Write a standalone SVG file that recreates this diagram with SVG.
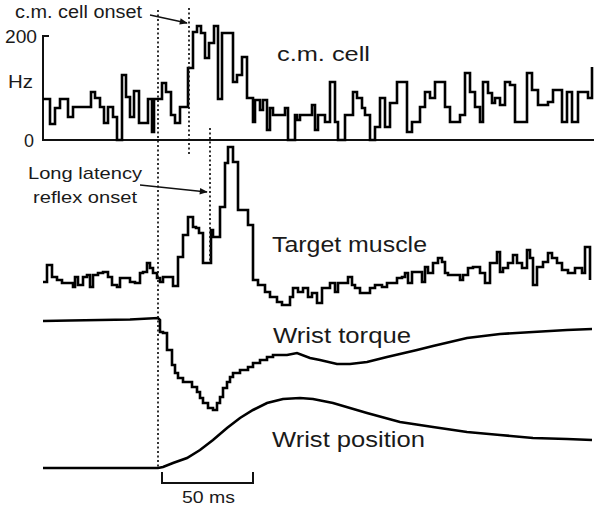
<svg xmlns="http://www.w3.org/2000/svg" width="600" height="507" viewBox="0 0 600 507">
<defs>
<style>
.tr{fill:none;stroke:#000;stroke-width:2.6;stroke-linejoin:miter}
.ax{fill:none;stroke:#111;stroke-width:2}
.dot{fill:none;stroke:#111;stroke-width:1.7;stroke-dasharray:2 2.5}
.arr{fill:none;stroke:#111;stroke-width:1.4}
.lbl{font-family:"Liberation Sans",Arial,sans-serif;fill:#1a1a1a}
</style>
<marker id="ah" viewBox="0 0 10 10" refX="9" refY="5" markerWidth="10" markerHeight="8" markerUnits="userSpaceOnUse" orient="auto">
<path d="M0,1 L10,5 L0,9 Z" fill="#111"/>
</marker>
</defs>
<rect width="600" height="507" fill="#fff"/>

<g id="axes">
<path class="ax" d="M49,36 H43 V140 H594"/>
<path class="ax" d="M162,472 V483 H253 V472"/>
</g>

<g id="cm-cell-trace">
<path class="tr" d="M43,99 H50 V124 H55 V108 H60 V99 H68 V117 H73 V107 H91 V92 H95 V98 H100 V107 H104 V123 H108 V107 H113 V117 H117 V140 H122 V75 H126 V97 H130 V117 H134 V91 H139 V123 H148 V99 H152 V132 H154 V99 H162 V83 H166 V92 H171 V115 H175 V123 H180 V107 H188 V68 H193 V32 H197 V26 H201 V33 H205 V58 H209 V43 H214 V26 H218 V99 H222 V33 H233 V82 H237 V75 H242 V57 H247 V98 H253 V122 H255 V100 H260 V110 H263 V100 H267 V130 H270 V108 H273 V115 H285 V108 H288 V140 H295 V115 H297 V120 H300 V115 H312 V105 H315 V130 H318 V115 H325 V122 H330 V82 H335 V122 H338 V140 H345 V115 H353 V92 H357 V98 H362 V108 H365 V115 H370 V140 H375 V127 H380 V98 H385 V127 H390 V103 H397 V82 H407 V132 H412 V122 H420 V107 H425 V92 H430 V98 H435 V82 H445 V107 H450 V122 H460 V115 H465 V73 H470 V92 H475 V107 H480 V122 H483 V82 H488 V93 H492 V103 H495 V98 H500 V105 H505 V82 H510 V85 H515 V122 H527 V73 H532 V90 H538 V105 H548 V102 H553 V90 H562 V122 H567 V92 H572 V122 H578 V92 H588 V98 H592 V67"/>
</g>

<g id="target-muscle-trace">
<path class="tr" d="M43,282 H47 V265 H52 V277 H57 V280 H62 V283 H73 V287 H75 V277 H78 V285 H83 V277 H87 V275 H90 V287 H93 V275 H98 V273 H103 V272 H108 V277 H112 V285 H117 V287 H120 V278 H130 V282 H135 V283 H140 V273 H143 V272 H147 V263 H150 V268 H153 V273 H157 V278 H160 V282 H163 V277 H173 V286 H178 V257 H183 V235 H188 V217 H193 V227 H196 V228 H199 V233 H203 V263 H211 V230 H213 V237 H220 V207 H225 V163 H228 V147 H233 V162 H238 V210 H248 V225 H253 V280 H258 V285 H265 V292 H270 V297 H277 V302 H282 V305 H290 V297 H293 V288 H298 V292 H303 V288 H308 V297 H312 V293 H317 V303 H322 V288 H330 V283 H335 V292 H338 V283 H348 V277 H352 V285 H355 V288 H360 V293 H370 V288 H375 V285 H382 V287 H387 V283 H397 V278 H402 V277 H405 V273 H408 V283 H412 V272 H422 V282 H425 V267 H428 V273 H433 V263 H438 V258 H442 V262 H445 V273 H448 V275 H460 V280 H463 V275 H468 V268 H473 V267 H480 V273 H485 V283 H490 V263 H497 V252 H500 V272 H503 V268 H508 V263 H513 V255 H517 V263 H522 V268 H527 V250 H530 V258 H533 V285 H537 V267 H543 V262 H548 V253 H552 V258 H557 V263 H562 V270 H568 V273 H575 V268 H582 V273 H585 V247 H590 V280"/>
</g>

<g id="wrist-torque-trace">
<path class="tr" stroke-width="2.4" d="M43,321 L70,320.5 L100,320 L130,319.5 L158,318 L160,320 V332 H163 V333 H167 V350 H172 V365 H175 V373 H178 V378 H183 V382 H192 V387 H197 V392 H200 V398 H203 V403 H208 V408 H213 V410 H217 V403 H220 V397 H223 V388 H227 V382 H230 V377 H233 V373 H240 V370 H248 V367 H253 V363 H260 V360 H267 V357 H273 V355 L287,355 L297,353 L310,358 L320,360 L337,364 L350,364 L367,362 L387,357 L417,350 L433,346 L467,338 L500,334 L533,332 L567,330 L592,329"/>
</g>

<g id="wrist-position-trace">
<path class="tr" stroke-width="2.4" d="M43,468 L158,468 L163,467 L173,463 L187,458 L200,450 L213,440 L227,428 L240,418 L253,410 L267,403 L283,399 L300,398 L313,399 L333,403 L367,413 L400,422 L433,427 L467,432 L500,435 L533,438 L567,439 L592,440"/>
</g>

<g id="connectors">
<path class="dot" d="M158,10 V467"/>
<path class="dot" d="M189,8 V155"/>
<path class="dot" d="M210,128 V262"/>
<path class="arr" d="M150,15 L187,23" marker-end="url(#ah)"/>
<path class="arr" d="M140,185 L207,192" marker-end="url(#ah)"/>
</g>

<g id="labels" class="lbl">
<text class="lbl" x="15" y="18" font-size="18" textLength="127" lengthAdjust="spacingAndGlyphs">c.m. cell onset</text>
<text class="lbl" x="5" y="43" font-size="19" textLength="32" lengthAdjust="spacingAndGlyphs">200</text>
<text class="lbl" x="8" y="88" font-size="18" textLength="25" lengthAdjust="spacingAndGlyphs">Hz</text>
<text class="lbl" x="24" y="147" font-size="19" textLength="10" lengthAdjust="spacingAndGlyphs">0</text>
<text class="lbl" x="277" y="61" font-size="21" textLength="93" lengthAdjust="spacingAndGlyphs">c.m. cell</text>
<text class="lbl" x="28" y="179" font-size="17" textLength="114" lengthAdjust="spacingAndGlyphs">Long latency</text>
<text class="lbl" x="33" y="203" font-size="17" textLength="104" lengthAdjust="spacingAndGlyphs">reflex onset</text>
<text class="lbl" x="272" y="252" font-size="22" textLength="155" lengthAdjust="spacingAndGlyphs">Target muscle</text>
<text class="lbl" x="273" y="343" font-size="22" textLength="138" lengthAdjust="spacingAndGlyphs">Wrist torque</text>
<text class="lbl" x="272" y="447" font-size="22" textLength="153" lengthAdjust="spacingAndGlyphs">Wrist position</text>
<text class="lbl" x="182" y="503" font-size="17" textLength="53" lengthAdjust="spacingAndGlyphs">50 ms</text>
</g>
</svg>
